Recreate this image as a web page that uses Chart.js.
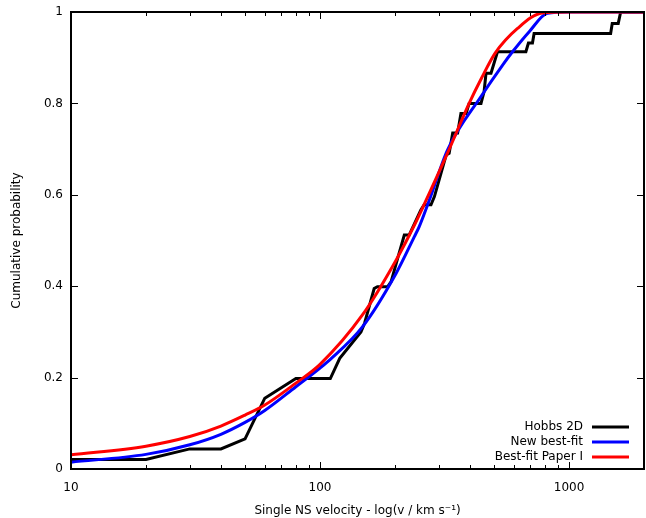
<!DOCTYPE html>
<html><head><meta charset="utf-8">
<script src="https://cdn.jsdelivr.net/npm/chart.js@4.4.0/dist/chart.umd.min.js"></script>
<style>html,body{margin:0;padding:0;background:#fff;}#wrap{width:646px;height:518px;}</style>
</head><body><div id="wrap"><canvas id="c" width="646" height="518"></canvas></div>
<script>
// Hobbs 2D empirical cumulative distribution (velocity km/s, probability)
const hobbsV = [10, 20, 30, 40, 50, 60, 80, 110, 120, 146, 151, 165, 170, 187, 193, 205, 218, 228, 254, 262, 279, 288, 321, 330, 341, 357, 368, 386, 397, 443, 456, 464, 486, 516, 671, 687, 713, 724, 1469, 1491, 1576, 1612, 2000];
const hobbsP = [0.021, 0.021, 0.044, 0.044, 0.066, 0.155, 0.198, 0.198, 0.242, 0.300, 0.319, 0.395, 0.399, 0.399, 0.410, 0.461, 0.512, 0.512, 0.567, 0.578, 0.578, 0.596, 0.687, 0.691, 0.735, 0.735, 0.778, 0.778, 0.800, 0.800, 0.826, 0.866, 0.866, 0.913, 0.913, 0.932, 0.932, 0.953, 0.953, 0.975, 0.975, 1.0, 1.0];
// New best-fit
const newV = [10, 20, 30, 40, 50, 60, 80, 100, 110, 148, 202, 239, 250, 275, 325, 443, 541, 593, 692, 818, 1000, 2000];
const newP = [0.015, 0.032, 0.053, 0.076, 0.102, 0.128, 0.180, 0.221, 0.240, 0.311, 0.428, 0.508, 0.530, 0.589, 0.698, 0.815, 0.884, 0.913, 0.957, 0.997, 1.0, 1.0];
// Best-fit Paper I
const paperV = [10, 20, 30, 40, 50, 60, 80, 100, 148, 202, 240, 260, 325, 397, 445, 505, 621, 781, 1000, 2000];
const paperP = [0.031, 0.050, 0.071, 0.094, 0.118, 0.140, 0.188, 0.229, 0.337, 0.457, 0.535, 0.575, 0.691, 0.800, 0.855, 0.910, 0.964, 0.998, 1.0, 1.0];

const seriesNames = ['Hobbs 2D', 'New best-fit', 'Best-fit Paper I'];
const seriesColors = ['#000000', '#0000ff', '#ff0000'];
const xTickLabels = ['10', '100', '1000'];
const yTickLabels = ['0', '0.2', '0.4', '0.6', '0.8', '1'];
const xTitle = 'Single NS velocity - log(v / km s\u207B\u00B9)';
const yTitle = 'Cumulative probability';

const FONT = 'DejaVu Sans';
const pts = (vs, ps) => vs.map((v, i) => ({x: v, y: ps[i]}));

const framePlugin = {
  id: 'frame',
  afterDraw(chart) {
    const {ctx, chartArea: ca, scales} = chart;
    const xs = scales.x, ys = scales.y;
    ctx.save();
    ctx.strokeStyle = '#000';
    ctx.lineWidth = 1;
    ctx.beginPath();
    for (let d = 1; d <= 3; d++) {
      for (let m = 1; m <= 9; m++) {
        const v = m * Math.pow(10, d);
        if (v < xs.min || v >= xs.max) continue;
        const px = Math.round(xs.getPixelForValue(v)) + 0.5;
        const len = (m === 1) ? 7 : 4;
        ctx.moveTo(px, ca.bottom); ctx.lineTo(px, ca.bottom - len);
        ctx.moveTo(px, ca.top); ctx.lineTo(px, ca.top + len);
      }
    }
    for (let i = 0; i < yTickLabels.length; i++) {
      const py = Math.round(ys.getPixelForValue(i * 0.2)) + 0.5;
      ctx.moveTo(ca.left, py); ctx.lineTo(ca.left + 7, py);
      ctx.moveTo(ca.right, py); ctx.lineTo(ca.right - 7, py);
    }
    ctx.stroke();
    ctx.lineWidth = 2;
    ctx.strokeRect(ca.left, ca.top, ca.right - ca.left, ca.bottom - ca.top);
    ctx.font = '12px "' + FONT + '"';
    ctx.textAlign = 'right';
    ctx.textBaseline = 'middle';
    const rowY = [427, 442, 457];
    chart.data.datasets.forEach((ds, i) => {
      const y = rowY[i];
      ctx.fillStyle = '#000';
      ctx.fillText(ds.label, 583, y);
      ctx.strokeStyle = ds.borderColor;
      ctx.lineWidth = 3;
      ctx.beginPath();
      ctx.moveTo(592, y); ctx.lineTo(629, y);
      ctx.stroke();
    });
    ctx.restore();
  }
};

new Chart(document.getElementById('c'), {
  type: 'line',
  data: {
    datasets: [
      {label: seriesNames[0], data: pts(hobbsV, hobbsP), borderColor: seriesColors[0], borderWidth: 3, pointRadius: 0, tension: 0, borderJoinStyle: 'miter', order: 2},
      {label: seriesNames[1], data: pts(newV, newP), borderColor: seriesColors[1], borderWidth: 3, pointRadius: 0, cubicInterpolationMode: 'monotone', order: 1},
      {label: seriesNames[2], data: pts(paperV, paperP), borderColor: seriesColors[2], borderWidth: 3, pointRadius: 0, cubicInterpolationMode: 'monotone', order: 0}
    ]
  },
  options: {
    responsive: false,
    animation: false,
    devicePixelRatio: 1,
    layout: {padding: {left: 0, right: 2, top: 12, bottom: 0}},
    plugins: {legend: {display: false}, tooltip: {enabled: false}},
    scales: {
      x: {
        type: 'logarithmic', min: 10, max: 2000,
        grid: {display: false, drawTicks: false},
        border: {display: false},
        afterFit(s) { s.height = 49; s.paddingLeft = 0; s.paddingRight = 0; },
        ticks: {
          autoSkip: false, maxRotation: 0, minRotation: 0, padding: 12,
          color: '#000', font: {family: FONT, size: 12},
          callback(v) {
            const l = Math.log10(v);
            const r = Math.round(l);
            return Math.abs(l - r) < 1e-6 && r >= 1 && r <= 3 ? xTickLabels[r - 1] : '';
          }
        },
        title: {display: true, text: xTitle, color: '#000', font: {family: FONT, size: 12}, padding: {top: 1, bottom: 0}}
      },
      y: {
        min: 0, max: 1,
        grid: {display: false, drawTicks: false},
        border: {display: false},
        afterFit(s) { s.width = 71; s.paddingTop = 0; s.paddingBottom = 0; },
        ticks: {
          stepSize: 0.2, padding: 8, color: '#000', font: {family: FONT, size: 12},
          callback(v) { return yTickLabels[Math.round(v / 0.2)]; }
        },
        title: {display: true, text: yTitle, color: '#000', font: {family: FONT, size: 12}, padding: {top: 10, bottom: 0}}
      }
    }
  },
  plugins: [framePlugin]
});
</script>
</body></html>
